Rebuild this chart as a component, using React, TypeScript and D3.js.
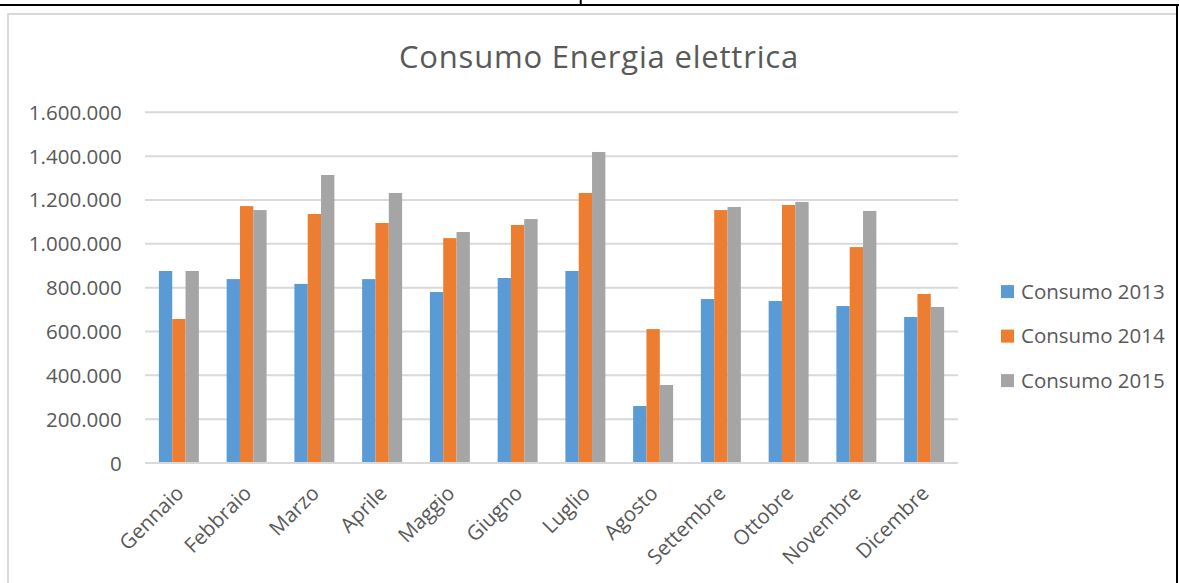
import React from "react";
import * as d3 from "d3";

// Monthly electricity consumption (kWh) for three years
const months = [
  "Gennaio", "Febbraio", "Marzo", "Aprile", "Maggio", "Giugno",
  "Luglio", "Agosto", "Settembre", "Ottobre", "Novembre", "Dicembre",
];
const seriesNames = ["Consumo 2013", "Consumo 2014", "Consumo 2015"];
const consumo2013 = [876000, 839000, 817000, 839000, 780000, 844000, 876000, 260000, 748000, 739000, 716000, 666000];
const consumo2014 = [657000, 1172000, 1136000, 1095000, 1026000, 1086000, 1232000, 611000, 1154000, 1177000, 985000, 771000];
const consumo2015 = [876000, 1154000, 1314000, 1232000, 1054000, 1113000, 1419000, 356000, 1168000, 1191000, 1150000, 712000];
const yTicks = [0, 200000, 400000, 600000, 800000, 1000000, 1200000, 1400000, 1600000];
const colors = ["#5b9bd5", "#ed7d31", "#a5a5a5"];

const W = 1179;
const H = 583;
const FONT = "'Open Sans', 'Segoe UI', sans-serif";
const TEXT = "#595959";
const GRID = "#d9d9d9";

const itLocale = d3.formatLocale({ decimal: ",", thousands: ".", grouping: [3], currency: ["€", ""] });
const fmt = itLocale.format(",d");

export default function App() {
  const values = [consumo2013, consumo2014, consumo2015];
  const plot = { left: 145, right: 958, top: 112.3, bottom: 463 };

  const x0 = d3.scaleBand<string>().domain(months).range([plot.left, plot.right]).padding(0);
  const step = x0.step();
  const groupW = step * 0.59;
  const x1 = d3.scaleBand<string>().domain(seriesNames).range([0, groupW]).padding(0);
  const y = d3.scaleLinear().domain([0, 1600000]).range([plot.bottom, plot.top]);

  return (
    <svg
      width={W}
      height={H}
      style={{ position: "absolute", left: 0, top: 0, background: "#fff" }}
      fontFamily={FONT}
    >
      {/* page rules around the chart */}
      <line x1={0} x2={W} y1={5} y2={5} stroke="#000" strokeWidth={2} />
      <line x1={580.7} x2={580.7} y1={0} y2={5} stroke="#000" strokeWidth={2} />
      <line x1={1177} x2={1177} y1={4} y2={H} stroke="#000" strokeWidth={2} />

      {/* chart area border */}
      <line x1={8} x2={1176} y1={14} y2={14} stroke={GRID} strokeWidth={2} />
      <line x1={8} x2={8} y1={13} y2={H} stroke={GRID} strokeWidth={2} />

      {/* title */}
      <text x={599} y={68} textAnchor="middle" fontSize={31} fill={TEXT} letterSpacing={0.8}>
        Consumo Energia elettrica
      </text>

      {/* gridlines and value axis */}
      {yTicks.map((t) => (
        <g key={t}>
          <line x1={plot.left} x2={plot.right} y1={y(t)} y2={y(t)} stroke={GRID} strokeWidth={2} />
          <text x={121.7} y={y(t) + 7.5} textAnchor="end" fontSize={20.5} fill={TEXT}>
            {fmt(t)}
          </text>
        </g>
      ))}

      {/* bars */}
      {months.map((m, i) => {
        const gx = (x0(m) as number) + (step - groupW) / 2;
        return (
          <g key={m}>
            {seriesNames.map((s, j) => (
              <rect
                key={s}
                x={gx + (x1(s) as number)}
                y={y(values[j][i])}
                width={x1.bandwidth()}
                height={y(0) - y(values[j][i])}
                fill={colors[j]}
              />
            ))}
          </g>
        );
      })}

      {/* baseline drawn over bar feet */}
      <line x1={plot.left} x2={plot.right} y1={y(0)} y2={y(0)} stroke={GRID} strokeWidth={2} />

      {/* category labels */}
      {months.map((m) => {
        const cx = (x0(m) as number) + step / 2 + 6;
        const cy = plot.bottom + 31.5;
        return (
          <text
            key={m}
            x={cx}
            y={cy}
            textAnchor="end"
            fontSize={20.5}
            fill={TEXT}
            transform={`rotate(-45, ${cx}, ${cy})`}
          >
            {m}
          </text>
        );
      })}

      {/* legend */}
      {seriesNames.map((s, j) => {
        const cy = 291.6 + j * 44.5;
        return (
          <g key={s}>
            <rect x={1001} y={cy - 6.5} width={13} height={13} fill={colors[j]} />
            <text x={1021} y={cy + 7.3} fontSize={20.5} fill={TEXT}>
              {s}
            </text>
          </g>
        );
      })}
    </svg>
  );
}
